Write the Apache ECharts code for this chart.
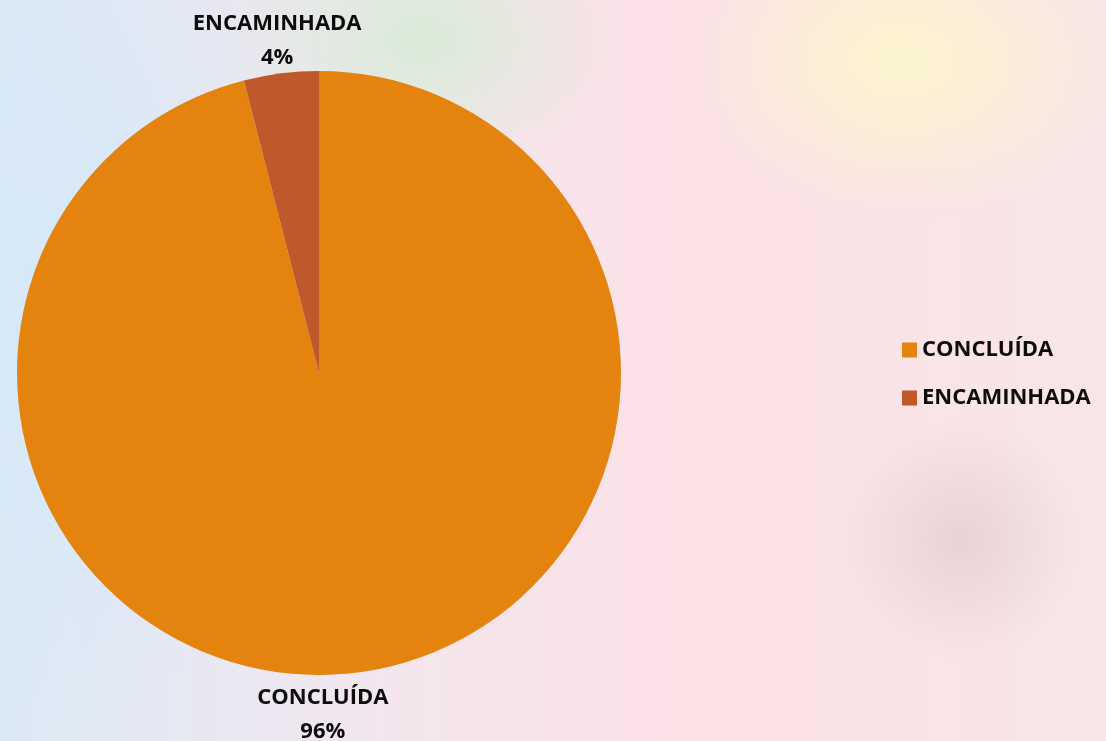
<!DOCTYPE html>
<html>
<head>
<meta charset="utf-8">
<script src="https://cdn.jsdelivr.net/npm/echarts@6/dist/echarts.min.js"></script>
<style>
  html, body { margin: 0; padding: 0; }
  body {
    width: 1106px; height: 741px; overflow: hidden;
    background:
      radial-gradient(ellipse 220px 160px at 900px 60px, rgba(253,246,205,0.95), rgba(253,246,205,0) 100%),
      radial-gradient(ellipse 200px 140px at 420px 40px, rgba(214,236,214,0.9), rgba(214,236,214,0) 100%),
      radial-gradient(ellipse 260px 420px at 60px 300px, rgba(214,232,248,1), rgba(214,232,248,0) 100%),
      radial-gradient(ellipse 120px 120px at 960px 540px, rgba(220,200,205,0.6), rgba(220,200,205,0) 100%),
      linear-gradient(90deg, #dbeaf6 0%, #f4e6ee 35%, #fbe1e7 60%, #f8e6e6 100%);
  }
  #main { width: 1106px; height: 741px; }
</style>
</head>
<body>
<div id="main"></div>
<script>
// 数据
const categories = ['CONCLUÍDA', 'ENCAMINHADA']
const values = [96, 4]
const colors = ['#E5830F', '#BF592B']

const pieData = categories.map(function (name, i) {
  return { name: name, value: values[i], itemStyle: { color: colors[i] } }
})

const option = {
  backgroundColor: 'transparent',
  textStyle: { fontFamily: 'Open Sans' },
  legend: {
    orient: 'vertical',
    left: 897,
    top: 333,
    itemWidth: 15,
    itemHeight: 15,
    itemGap: 24,
    icon: 'rect',
    textStyle: { fontSize: 22, lineHeight: 24, fontWeight: 'bold', color: '#0d0d0d', fontFamily: 'Open Sans' },
    data: categories
  },
  series: [
    {
      type: 'pie',
      center: [319, 373],
      radius: 302,
      startAngle: 90,
      clockwise: true,
      animation: false,
      data: pieData,
      label: {
        show: true,
        position: 'outside',
        formatter: '{b}\n{d}%',
        fontSize: 22,
        fontWeight: 'bold',
        color: '#0d0d0d',
        lineHeight: 34,
        fontFamily: 'Open Sans'
      },
      labelLine: { show: false, length: 8, length2: 0 },
      labelLayout: function (params) {
        // 标签居中
        if (params.dataIndex === 0) {
          return { align: 'center', verticalAlign: 'top', dx: -40, dy: 0 }
        }
        return { align: 'center', verticalAlign: 'bottom', dx: 2, dy: 9 }
      },
      emphasis: { disabled: true }
    }
  ]
}

echarts.init(document.getElementById('main')).setOption(option)
</script>
</body>
</html>
